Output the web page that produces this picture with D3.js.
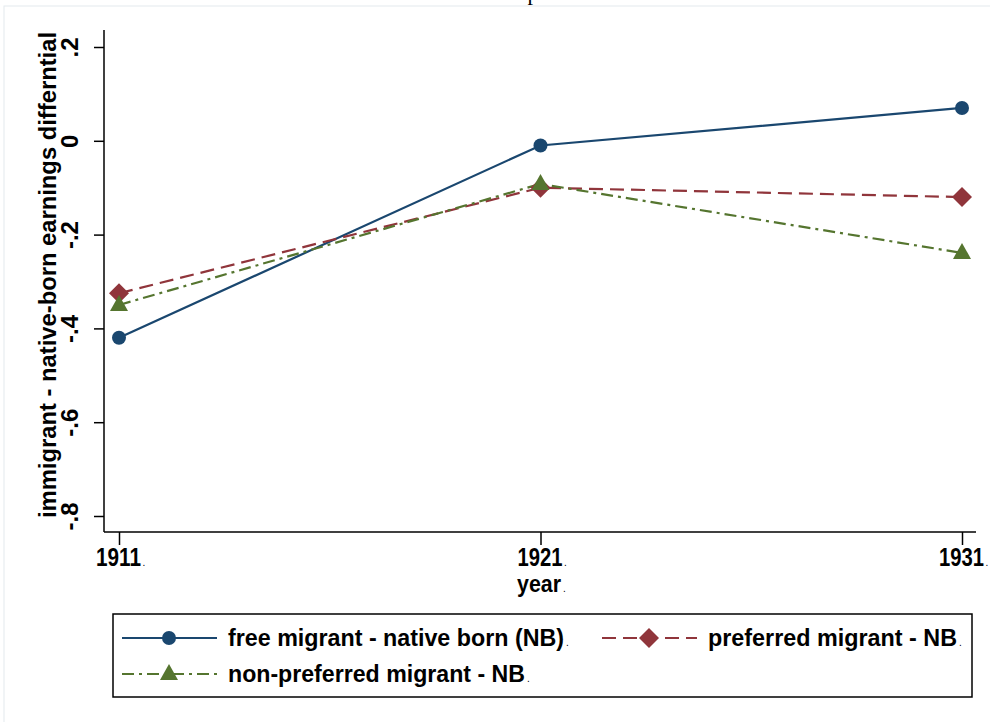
<!DOCTYPE html>
<html>
<head>
<meta charset="utf-8">
<script src="https://cdn.jsdelivr.net/npm/d3@7"></script>
<style>
  body { margin: 0; background: #fff; }
  text { font-family: "Liberation Sans", Arial, sans-serif; }
</style>
</head>
<body>
<svg id="chart" width="990" height="722"></svg>
<script>
const years = [1911, 1921, 1931]
const yTicks = [0.2, 0, -0.2, -0.4, -0.6, -0.8]
const yTickLabels = ['.2', '0', '-.2', '-.4', '-.6', '-.8']
const freeMigrant = [-0.42, -0.01, 0.07]
const preferredMigrant = [-0.325, -0.10, -0.12]
const nonPreferredMigrant = [-0.35, -0.092, -0.239]

const series = [
    { name: 'free migrant - native born (NB)', values: freeMigrant, color: '#1a476f', dash: null, marker: 'circle', width: 336 },
    { name: 'preferred migrant - NB', values: preferredMigrant, color: '#90353b', dash: '14,7', marker: 'diamond', width: 249 },
    { name: 'non-preferred migrant - NB', values: nonPreferredMigrant, color: '#55752f', dash: '12,5,3,5', marker: 'triangle', width: 297 }
]

const svg = d3.select('#chart')

// light outer frame
svg.append('rect')
    .attr('x', 4).attr('y', 6)
    .attr('width', 990).attr('height', 720)
    .attr('fill', 'none')
    .attr('stroke', '#e3eaee')

// title descender peeking in at the top edge
svg.append('text')
    .attr('x', 533).attr('y', 0)
    .attr('text-anchor', 'middle')
    .style('font-family', '"Liberation Serif", serif')
    .style('font-size', '22px')
    .text('p')

const x = d3.scaleLinear().domain([1911, 1931]).range([119, 962])
const y = d3.scaleLinear().domain([-0.8, 0.2]).range([516, 47])

const axisLeftX = 104, axisBottomY = 532

// small trailing dot that follows each label in the reference
function addDot(g, xPos, yPos) {
    g.append('text')
        .attr('x', xPos).attr('y', yPos)
        .attr('fill', '#000')
        .style('font-size', '10px')
        .text('.')
}

// y axis
const yAxis = svg.append('g')
    .attr('transform', `translate(${axisLeftX},0)`)
    .call(d3.axisLeft(y).tickValues(yTicks).tickSize(10).tickFormat((d, i) => yTickLabels[i]))
yAxis.select('.domain').remove()
yAxis.append('line')
    .attr('x1', 0).attr('x2', 0)
    .attr('y1', 30).attr('y2', axisBottomY)
    .attr('stroke', '#000').attr('stroke-width', 1.5)
yAxis.selectAll('.tick line').attr('stroke-width', 1.5)
yAxis.selectAll('.tick text')
    .attr('x', 0).attr('y', 0)
    .attr('dy', null)
    .attr('transform', 'translate(-26,0) rotate(-90)')
    .attr('text-anchor', 'middle')
    .attr('fill', '#000')
    .style('font-size', '24px')
    .style('font-weight', 'bold')

// x axis
const xAxis = svg.append('g')
    .attr('transform', `translate(0,${axisBottomY})`)
    .call(d3.axisBottom(x).tickValues(years).tickSize(13).tickFormat(d3.format('d')))
xAxis.select('.domain').remove()
xAxis.append('line')
    .attr('x1', axisLeftX).attr('x2', 976)
    .attr('y1', 0).attr('y2', 0)
    .attr('stroke', '#000').attr('stroke-width', 1.5)
xAxis.selectAll('.tick line').attr('stroke-width', 1.5)
xAxis.selectAll('.tick text')
    .attr('y', 34).attr('dy', null)
    .attr('x', -1)
    .attr('fill', '#000')
    .attr('textLength', 45)
    .attr('lengthAdjust', 'spacingAndGlyphs')
    .style('font-size', '25px')
    .style('font-weight', 'bold')
years.forEach(yr => addDot(xAxis, x(yr) + 25, 34))

// axis titles
svg.append('text')
    .attr('transform', `translate(56,${(30 + 516) / 2 + 2}) rotate(-90)`)
    .attr('text-anchor', 'middle')
    .style('font-size', '23px')
    .style('font-weight', 'bold')
    .attr('textLength', 486)
    .attr('lengthAdjust', 'spacingAndGlyphs')
    .text('immigrant - native-born earnings differntial')

svg.append('text')
    .attr('x', 539).attr('y', 592)
    .attr('text-anchor', 'middle')
    .style('font-size', '24px')
    .style('font-weight', 'bold')
    .attr('textLength', 44)
    .attr('lengthAdjust', 'spacingAndGlyphs')
    .text('year')
addDot(svg, 563, 592)

function drawMarker(g, type, cx, cy, color) {
    if (type === 'circle') {
        g.append('circle').attr('cx', cx).attr('cy', cy).attr('r', 7).attr('fill', color)
    } else if (type === 'diamond') {
        g.append('path')
            .attr('d', `M${cx},${cy - 10}L${cx + 10},${cy}L${cx},${cy + 10}L${cx - 10},${cy}Z`)
            .attr('fill', color)
    } else {
        g.append('path')
            .attr('d', `M${cx},${cy - 10}L${cx + 9},${cy + 6}L${cx - 9},${cy + 6}Z`)
            .attr('fill', color)
    }
}

const line = d3.line().x(d => x(d.year)).y(d => y(d.value))

const plot = svg.append('g')
series.forEach(s => {
    const pts = years.map((yr, i) => ({ year: yr, value: s.values[i] }))
    plot.append('path')
        .datum(pts)
        .attr('d', line)
        .attr('fill', 'none')
        .attr('stroke', s.color)
        .attr('stroke-width', 2.2)
        .attr('stroke-dasharray', s.dash)
})
series.forEach(s => {
    years.forEach((yr, i) => drawMarker(plot, s.marker, x(yr), y(s.values[i]), s.color))
})

// legend
const legend = svg.append('g')
legend.append('rect')
    .attr('x', 113).attr('y', 614)
    .attr('width', 859).attr('height', 83)
    .attr('fill', '#fff')
    .attr('stroke', '#000').attr('stroke-width', 1.5)

const legendPos = [
    { lx: 122, ly: 638 },
    { lx: 602, ly: 638 },
    { lx: 122, ly: 674 }
]
series.forEach((s, i) => {
    const p = legendPos[i]
    legend.append('line')
        .attr('x1', p.lx).attr('x2', p.lx + 95)
        .attr('y1', p.ly).attr('y2', p.ly)
        .attr('stroke', s.color).attr('stroke-width', 2.2)
        .attr('stroke-dasharray', s.dash)
    drawMarker(legend, s.marker, p.lx + 47, p.ly, s.color)
    legend.append('text')
        .attr('x', p.lx + 106).attr('y', p.ly + 8)
        .style('font-size', '23px')
        .style('font-weight', 'bold')
        .attr('textLength', s.width)
        .attr('lengthAdjust', 'spacingAndGlyphs')
        .text(s.name)
    addDot(legend, p.lx + 106 + s.width + 2, p.ly + 8)
})
</script>
</body>
</html>
